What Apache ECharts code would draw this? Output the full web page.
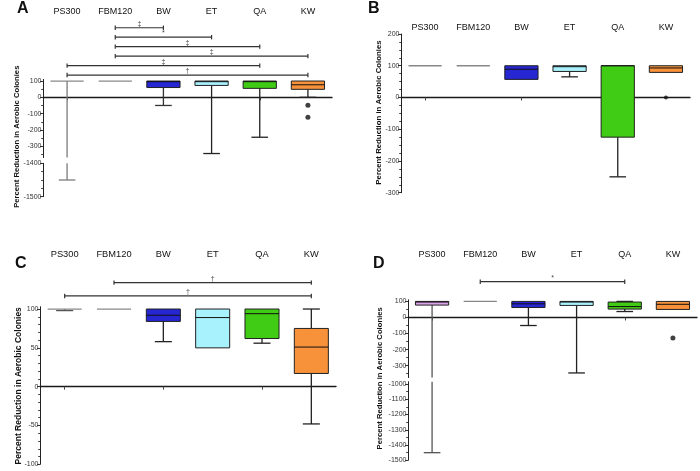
<!DOCTYPE html>
<html><head><meta charset="utf-8">
<script src="https://cdn.jsdelivr.net/npm/echarts@6/dist/echarts.min.js"></script>
<style>html,body{margin:0;padding:0;background:#fff}#c{width:700px;height:471px}</style>
</head><body><div id="c"></div>
<script>
const categories = ['PS300', 'FBM120', 'BW', 'ET', 'QA', 'KW'];

// Panel A  (box stats: min, Q1, median, Q3, max)
const aMin = [-1450, 100, -50, -345, -245, 0];
const aQ1 = [100, 100, 60, 73, 55, 49];
const aMed = [100, 100, 96, 96, 96, 77];
const aQ3 = [100, 100, 100, 100, 100, 100];
const aMax = [100, 100, 100, 100, 100, 100];
const aOutliers = [[5, -48], [5, -123]];
const aBrackets = [[1, 2, 6, '‡'], [1, 3, 5, '*'], [1, 4, 4, '‡'], [1, 5, 3, '‡'], [0, 4, 2, '‡'], [0, 5, 1, '†']];
const aTicks = [100, 0, -100, -200, -300];
const aTicksLow = [-1400, -1500];

// Panel B
const bMin = [100, 100, 57, 65, -250, 79];
const bQ1 = [100, 100, 57, 82, -125, 79];
const bMed = [100, 100, 89, 97, 100, 93];
const bQ3 = [100, 100, 100, 100, 100, 100];
const bMax = [100, 100, 100, 100, 100, 100];
const bOutliers = [[5, 0]];
const bTicks = [200, 100, 0, -100, -200, -300];

// Panel C
const cMin = [98, 100, 58, 50, 56, -48];
const cQ1 = [100, 100, 84, 50, 62, 17];
const cMed = [100, 100, 92, 89, 94, 51];
const cQ3 = [100, 100, 100, 100, 100, 75];
const cMax = [100, 100, 100, 100, 100, 100];
const cBrackets = [[1, 5, 2, '†'], [0, 5, 1, '†']];
const cTicks = [100, 50, 0, -50, -100];

// Panel D
const dMin = [-1450, 100, -50, -345, 37, 50];
const dQ1 = [77, 100, 62, 75, 52, 50];
const dMed = [96, 100, 85, 96, 68, 82];
const dQ3 = [100, 100, 100, 100, 96, 100];
const dMax = [100, 100, 100, 100, 100, 100];
const dOutliers = [[5, -127]];
const dBrackets = [[1, 4, 1, '*']];
const dTicks = [100, 0, -100, -200, -300];
const dTicksLow = [-1000, -1100, -1200, -1300, -1400, -1500];

// styles
const fillStd = ['#ffffff', '#ffffff', '#2626d2', '#a8f2fd', '#40cb14', '#f7913a'];
const fillD = ['#dc9fe8', '#ffffff', '#2626d2', '#a8f2fd', '#40cb14', '#f7913a'];
const whiskA = ['#7a7a7a', '#888', '#333', '#222', '#222', '#222'];
const whiskStd = ['#555', '#888', '#222', '#222', '#222', '#222'];
const FONT = '"Liberation Sans", Arial, Helvetica, sans-serif';

function range(a, b, s) { const r = []; for (let v = a; s > 0 ? v <= b : v >= b; v += s) r.push(v); return r; }

const grids = [], xAxes = [], yAxes = [], series = [];
function addGrid(g) { grids.push(Object.assign({ outerBoundsMode: 'none', containLabel: false }, g)); return grids.length - 1; }
function hiddenX(gi) { xAxes.push({ type: 'category', data: categories, gridIndex: gi, show: false }); return xAxes.length - 1; }
function mainX(gi, yi) {
  xAxes.push({ type: 'category', data: categories, gridIndex: gi, position: 'bottom',
    axisLine: { show: true, onZero: true, onZeroAxisIndex: yi, lineStyle: { color: '#1a1a1a', width: 1.3 } },
    axisTick: { show: true, alignWithLabel: true, length: 3, lineStyle: { color: '#444' } },
    axisLabel: { show: false }, splitLine: { show: false } });
  return xAxes.length - 1;
}
function labelX(gi, margin, fs) {
  xAxes.push({ type: 'category', data: categories, gridIndex: gi, position: 'top',
    axisLine: { show: false, onZero: false }, axisTick: { show: false },
    axisLabel: { show: true, interval: 0, margin: margin, fontSize: fs, color: '#111', fontFamily: FONT } });
  return xAxes.length - 1;
}
function mainY(gi, min, max, ticks, fs) {
  yAxes.push({ type: 'value', gridIndex: gi, min: min, max: max, position: 'left',
    axisLine: { show: true, onZero: false, lineStyle: { color: '#222', width: 1 } },
    axisTick: { show: true, customValues: ticks, length: 3, lineStyle: { color: '#333' } },
    axisLabel: { show: true, customValues: ticks, margin: 1.5, fontSize: fs, color: '#333', fontFamily: FONT, rotate: 0, formatter: v => String(v) },
    splitLine: { show: false } });
  return yAxes.length - 1;
}
function minorY(gi, min, max, ticks) {
  yAxes.push({ type: 'value', gridIndex: gi, min: min, max: max, position: 'left',
    axisLine: { show: false, onZero: false },
    axisTick: { show: true, customValues: ticks, length: 1.8, lineStyle: { color: '#444' } },
    axisLabel: { show: false }, splitLine: { show: false } });
  return yAxes.length - 1;
}
function annY(gi, n) { yAxes.push({ type: 'value', gridIndex: gi, min: 0.5, max: n + 0.5, show: false }); return yAxes.length - 1; }

function boxData(mn, q1, md, q3, mx) { return categories.map((c, i) => [i, mn[i], q1[i], md[i], q3[i], mx[i]]); }

function boxSeries(xi, yi, data, fills, whisk) {
  series.push({ type: 'custom', xAxisIndex: xi, yAxisIndex: yi, data: data, z: 3,
    encode: { x: 0, y: [1, 2, 3, 4, 5] },
    renderItem: function (params, api) {
      const cs = params.coordSys; const top = cs.y, bot = cs.y + cs.height;
      const i = api.value(0);
      const cx = api.coord([i, 0])[0];
      const bw = api.size([1, 0])[0] * 0.69;
      const cw = bw * 0.5;
      const Y = v => api.coord([i, v])[1];
      const cl = y => Math.max(top, Math.min(bot, y));
      const inR = y => y >= top - 0.5 && y <= bot + 0.5;
      const vmin = api.value(1), q1 = api.value(2), med = api.value(3), q3 = api.value(4), vmax = api.value(5);
      const wc = whisk[i];
      const ch = [];
      const seg = (ya, yb) => { const a = cl(ya), b = cl(yb); if (Math.abs(a - b) > 0.3) ch.push({ type: 'line', shape: { x1: cx, y1: a, x2: cx, y2: b }, style: { stroke: wc, lineWidth: 1.3 } }); };
      const cap = y => ch.push({ type: 'line', shape: { x1: cx - cw / 2, y1: y, x2: cx + cw / 2, y2: y }, style: { stroke: wc, lineWidth: 1.3 } });
      seg(Y(q3), Y(vmax)); seg(Y(q1), Y(vmin));
      if (vmax > q3 && inR(Y(vmax))) cap(Y(vmax));
      if (vmin < q1 && inR(Y(vmin))) cap(Y(vmin));
      if (q3 > q1) {
        const a = cl(Y(q3)), b = cl(Y(q1));
        if (b - a > 0.3) {
          ch.push({ type: 'rect', shape: { x: cx - bw / 2, y: a, width: bw, height: b - a }, style: { fill: fills[i], stroke: '#222', lineWidth: 1 } });
          const ym = Y(med);
          if (inR(ym)) ch.push({ type: 'line', shape: { x1: cx - bw / 2, y1: ym, x2: cx + bw / 2, y2: ym }, style: { stroke: '#111', lineWidth: 1 } });
        }
      } else {
        const yt = Y(q3);
        if (inR(yt)) ch.push({ type: 'line', shape: { x1: cx - bw / 2, y1: yt, x2: cx + bw / 2, y2: yt }, style: { stroke: '#888', lineWidth: 1.3 } });
      }
      return { type: 'group', children: ch };
    } });
}

function bracketSeries(xi, yi, list, fs) {
  series.push({ type: 'custom', xAxisIndex: xi, yAxisIndex: yi, data: list.map(d => [d[0], d[1], d[2]]),
    renderItem: function (params, api) {
      const lv = api.value(2);
      const a = api.coord([api.value(0), lv]);
      const b = api.coord([api.value(1), lv]);
      const sym = list[params.dataIndex][3];
      const st = { stroke: '#333', lineWidth: 1.2 };
      return { type: 'group', children: [
        { type: 'line', shape: { x1: a[0], y1: a[1], x2: b[0], y2: b[1] }, style: st },
        { type: 'line', shape: { x1: a[0], y1: a[1] - 2.2, x2: a[0], y2: a[1] + 2.2 }, style: st },
        { type: 'line', shape: { x1: b[0], y1: b[1] - 2.2, x2: b[0], y2: b[1] + 2.2 }, style: st },
        { type: 'text', style: { x: (a[0] + b[0]) / 2, y: a[1] - 0.5, text: sym, fill: '#444', font: fs + 'px ' + FONT, textAlign: 'center', textVerticalAlign: 'bottom' } }
      ] };
    } });
}

function outlierSeries(xi, yi, pts, size) {
  series.push({ type: 'scatter', xAxisIndex: xi, yAxisIndex: yi, data: pts, symbol: 'circle', symbolSize: size, itemStyle: { color: '#111' }, z: 5 });
}

// ---------- Panel A ----------
const gA = addGrid({ left: 43, top: 79.4, width: 289, height: 78.2 });
const gA2 = addGrid({ left: 43, top: 163.3, width: 289, height: 33.4 });
const gAn = addGrid({ left: 43, top: 23, width: 289, height: 56.8 });
const yA = mainY(gA, -370, 110, aTicks, 7); minorY(gA, -370, 110, [50, -50, -150, -250, -350]);
const xA = mainX(gA, yA); labelX(gA, 63, 9);
const yA2 = mainY(gA2, -1500, -1400, aTicksLow, 7); minorY(gA2, -1500, -1400, [-1425, -1450, -1475]);
const xA2 = hiddenX(gA2);
const yAn = annY(gAn, 6); const xAn = hiddenX(gAn);
boxSeries(xA, yA, boxData(aMin, aQ1, aMed, aQ3, aMax), fillStd, whiskA);
boxSeries(xA2, yA2, boxData(aMin, aQ1, aMed, aQ3, aMax), fillStd, whiskA);
outlierSeries(xA, yA, aOutliers, 5);
bracketSeries(xAn, yAn, aBrackets, 7);

// ---------- Panel B ----------
const gB = addGrid({ left: 401, top: 34, width: 289, height: 158.7 });
const yB = mainY(gB, -300, 200, bTicks, 7); minorY(gB, -300, 200, range(175, -275, -25).filter(v => v % 100 !== 0));
const xB = mainX(gB, yB); labelX(gB, 1.5, 9);
boxSeries(xB, yB, boxData(bMin, bQ1, bMed, bQ3, bMax), fillStd, whiskStd);
outlierSeries(xB, yB, bOutliers, 4);

// ---------- Panel C ----------
const gC = addGrid({ left: 40, top: 306.7, width: 296, height: 157.6 });
const gCn = addGrid({ left: 40, top: 276, width: 296, height: 26.6 });
const yC = mainY(gC, -100, 103, cTicks, 7); minorY(gC, -100, 103, range(90, -90, -10).filter(v => v % 50 !== 0));
const xC = mainX(gC, yC); labelX(gC, 48, 9.3);
const yCn = annY(gCn, 2); const xCn = hiddenX(gCn);
boxSeries(xC, yC, boxData(cMin, cQ1, cMed, cQ3, cMax), fillStd, whiskStd);
bracketSeries(xCn, yCn, cBrackets, 7);

// ---------- Panel D ----------
const gD = addGrid({ left: 408, top: 299.8, width: 289, height: 77.8 });
const gD2 = addGrid({ left: 408, top: 381.7, width: 289, height: 78.6 });
const gDn = addGrid({ left: 408, top: 276, width: 289, height: 11.4 });
const yD = mainY(gD, -374, 110, dTicks, 7); minorY(gD, -374, 110, [50, -50, -150, -250, -350]);
const xD = mainX(gD, yD); labelX(gD, 41, 9);
const yD2 = mainY(gD2, -1500, -985, dTicksLow, 7); minorY(gD2, -1500, -985, [-1050, -1150, -1250, -1350, -1450]);
const xD2 = hiddenX(gD2);
const yDn = annY(gDn, 1); const xDn = hiddenX(gDn);
boxSeries(xD, yD, boxData(dMin, dQ1, dMed, dQ3, dMax), fillD, whiskStd);
boxSeries(xD2, yD2, boxData(dMin, dQ1, dMed, dQ3, dMax), fillD, whiskStd);
outlierSeries(xD, yD, dOutliers, 5);
bracketSeries(xDn, yDn, dBrackets, 7);

const yTitle = 'Percent Reduction in Aerobic Colonies';
function letter(t, x, y) { return { type: 'text', x: x, y: y, style: { text: t, font: 'bold 16px ' + FONT, fill: '#111', textAlign: 'left', textVerticalAlign: 'middle' } }; }
function ytitle(x, y, fs) { return { type: 'text', x: x, y: y, rotation: Math.PI / 2, style: { text: yTitle, font: 'bold ' + fs + 'px ' + FONT, fill: '#111', textAlign: 'center', textVerticalAlign: 'middle' } }; }

const option = {
  animation: false,
  backgroundColor: '#ffffff',
  textStyle: { fontFamily: FONT },
  grid: grids, xAxis: xAxes, yAxis: yAxes, series: series,
  graphic: [
    letter('A', 17, 9), letter('B', 368, 9), letter('C', 15, 263.5), letter('D', 373, 263.5),
    ytitle(17.3, 136.7, 7.7), ytitle(379.3, 112.5, 7.8), ytitle(18.8, 385.8, 8.5), ytitle(379.7, 378.3, 7.7)
  ]
};
const chart = echarts.init(document.getElementById('c'), null, { renderer: 'canvas' });
chart.setOption(option);
</script>
</body></html>
